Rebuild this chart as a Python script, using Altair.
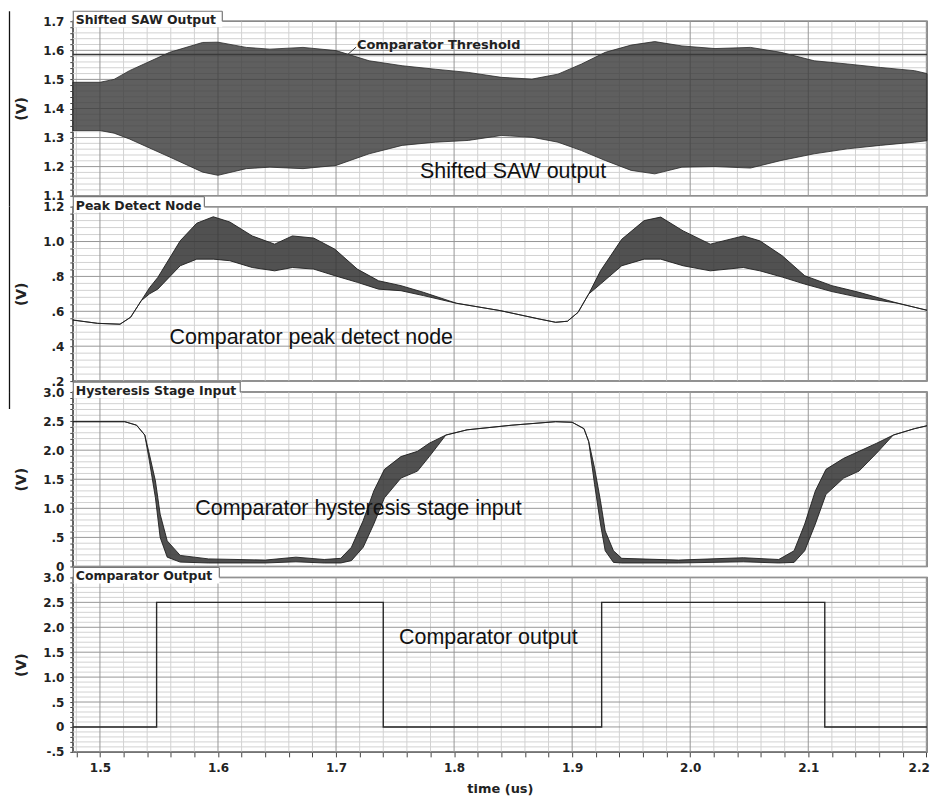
import altair as alt
import pandas as pd

# ---------------- data ----------------
X_DOMAIN = [1.477, 2.2006]
X_MAJOR = [1.5, 1.6, 1.7, 1.8, 1.9, 2.0, 2.1, 2.2]
X_MINOR = [1.48, 1.52, 1.54, 1.56, 1.58, 1.62, 1.64, 1.66, 1.68, 1.72, 1.74, 1.76, 1.78,
           1.82, 1.84, 1.86, 1.88, 1.92, 1.94, 1.96, 1.98, 2.02, 2.04, 2.06, 2.08,
           2.12, 2.14, 2.16, 2.18]

# Panel 1: Shifted SAW output (envelope of the fast oscillation)
saw_t = [1.477, 1.500, 1.512, 1.525, 1.559, 1.587, 1.600, 1.624, 1.644, 1.672, 1.700, 1.728,
         1.756, 1.784, 1.812, 1.840, 1.866, 1.888, 1.908, 1.928, 1.950, 1.970, 1.993,
         2.021, 2.051, 2.077, 2.105, 2.133, 2.161, 2.190, 2.2006]
saw_hi = [1.490, 1.490, 1.500, 1.530, 1.593, 1.627, 1.628, 1.610, 1.604, 1.610, 1.599, 1.564,
          1.547, 1.535, 1.524, 1.507, 1.501, 1.518, 1.553, 1.593, 1.618, 1.630, 1.615,
          1.606, 1.610, 1.593, 1.564, 1.553, 1.541, 1.530, 1.520]
saw_lo = [1.324, 1.324, 1.315, 1.295, 1.233, 1.181, 1.170, 1.193, 1.198, 1.193, 1.204, 1.244,
          1.273, 1.284, 1.290, 1.307, 1.301, 1.284, 1.255, 1.221, 1.187, 1.175, 1.198,
          1.200, 1.195, 1.221, 1.244, 1.261, 1.273, 1.284, 1.289]
THRESHOLD = 1.586

# Panel 2: Peak detect node
pk_t = [1.477, 1.498, 1.517, 1.526, 1.535, 1.542, 1.549, 1.568, 1.582, 1.596, 1.610, 1.629,
        1.648, 1.663, 1.681, 1.699, 1.718, 1.736, 1.755, 1.774, 1.802, 1.839, 1.872,
        1.886, 1.896, 1.905, 1.914, 1.924, 1.942, 1.961, 1.975, 1.994, 2.017, 2.045,
        2.059, 2.078, 2.097, 2.120, 2.143, 2.176, 2.2006]
pk_hi = [0.550, 0.531, 0.526, 0.566, 0.661, 0.735, 0.794, 1.004, 1.105, 1.142, 1.112, 1.032,
         0.985, 1.032, 1.020, 0.956, 0.842, 0.775, 0.747, 0.709, 0.646, 0.604, 0.556,
         0.537, 0.543, 0.594, 0.699, 0.832, 1.013, 1.120, 1.140, 1.061, 0.985, 1.032,
         1.004, 0.918, 0.804, 0.747, 0.709, 0.646, 0.606]
pk_lo = [0.550, 0.531, 0.526, 0.566, 0.661, 0.700, 0.727, 0.861, 0.899, 0.899, 0.890, 0.851,
         0.832, 0.851, 0.842, 0.804, 0.766, 0.727, 0.718, 0.690, 0.646, 0.604, 0.556,
         0.537, 0.543, 0.594, 0.699, 0.756, 0.861, 0.899, 0.899, 0.861, 0.832, 0.851,
         0.832, 0.796, 0.756, 0.713, 0.680, 0.646, 0.606]

# Panel 3: Hysteresis stage input
hy_t = [1.477, 1.521, 1.531, 1.538, 1.542, 1.547, 1.551, 1.557, 1.568, 1.592, 1.640, 1.666,
        1.690, 1.704, 1.713, 1.723, 1.732, 1.741, 1.755, 1.769, 1.779, 1.793, 1.811,
        1.849, 1.886, 1.900, 1.910, 1.914, 1.919, 1.924, 1.928, 1.935, 1.942, 1.990,
        2.045, 2.075, 2.088, 2.097, 2.106, 2.115, 2.130, 2.143, 2.158, 2.172, 2.190, 2.2006]
hy_hi = [2.49, 2.49, 2.43, 2.26, 1.92, 1.47, 0.90, 0.44, 0.19, 0.13, 0.11, 0.16,
         0.12, 0.14, 0.33, 0.79, 1.30, 1.67, 1.89, 1.98, 2.12, 2.26, 2.35,
         2.43, 2.49, 2.48, 2.37, 2.15, 1.69, 1.13, 0.61, 0.27, 0.14, 0.11,
         0.15, 0.12, 0.27, 0.73, 1.30, 1.67, 1.86, 1.98, 2.12, 2.26, 2.37, 2.42]
hy_lo = [2.49, 2.49, 2.43, 2.26, 1.80, 1.18, 0.50, 0.16, 0.075, 0.06, 0.06, 0.08,
         0.06, 0.06, 0.10, 0.33, 0.73, 1.18, 1.52, 1.64, 1.89, 2.26, 2.35,
         2.43, 2.49, 2.48, 2.37, 2.15, 1.41, 0.73, 0.27, 0.07, 0.06, 0.06,
         0.08, 0.06, 0.07, 0.27, 0.73, 1.24, 1.52, 1.64, 1.95, 2.26, 2.37, 2.42]

# Panel 4: Comparator output (step-after)
cmp_t = [1.477, 1.548, 1.740, 1.925, 2.114, 2.2006]
cmp_v = [0.0, 2.5, 0.0, 2.5, 0.0, 0.0]

# Panel y-axis ticks
P1_MAJOR = [1.1, 1.2, 1.3, 1.4, 1.5, 1.6, 1.7]
P1_MINOR = [1.12, 1.14, 1.16, 1.18, 1.22, 1.24, 1.26, 1.28, 1.32, 1.34, 1.36, 1.38,
            1.42, 1.44, 1.46, 1.48, 1.52, 1.54, 1.56, 1.58, 1.62, 1.64, 1.66, 1.68]
P2_MAJOR = [0.2, 0.4, 0.6, 0.8, 1.0, 1.2]
P2_MINOR = [0.24, 0.28, 0.32, 0.36, 0.44, 0.48, 0.52, 0.56, 0.64, 0.68, 0.72, 0.76,
            0.84, 0.88, 0.92, 0.96, 1.04, 1.08, 1.12, 1.16]
P3_MAJOR = [0.0, 0.5, 1.0, 1.5, 2.0, 2.5, 3.0]
P3_MINOR = [0.1, 0.2, 0.3, 0.4, 0.6, 0.7, 0.8, 0.9, 1.1, 1.2, 1.3, 1.4, 1.6, 1.7, 1.8, 1.9,
            2.1, 2.2, 2.3, 2.4, 2.6, 2.7, 2.8, 2.9]
P4_MAJOR = [-0.5, 0.0, 0.5, 1.0, 1.5, 2.0, 2.5, 3.0]
P4_MINOR = [-0.4, -0.3, -0.2, -0.1] + P3_MINOR

# Annotations
ann_labels = ["Shifted SAW output", "Comparator peak detect node",
              "Comparator hysteresis stage input", "Comparator output"]
ann_t = [1.850, 1.679, 1.719, 1.829]
ann_v = [1.182, 0.446, 0.99, 1.78]
panel_titles = ["Shifted SAW Output", "Peak Detect Node", "Hysteresis Stage Input", "Comparator Output"]
title_box_w = [150, 132, 168, 147]

# ---------------- styling ----------------
W, H = 857, 175
AXIS_FONT = "DejaVu Sans"
ANN_FONT = "Liberation Sans"
MINOR_C = "#d2d2d2"
MAJOR_C = "#979797"
one = pd.DataFrame({"k": [0]})


def lab_expr(step):
    fmt = ("(datum.value == 0 ? '0' : (abs(datum.value) < 1 ? "
           "(datum.value < 0 ? '-' : '') + substring(format(abs(datum.value), '.1f'), 1) : "
           "format(datum.value, '.1f')))")
    return (f"abs(datum.value/{step} - round(datum.value/{step})) < 0.001 ? {fmt} : ''")


def y_axis(major, minor, step):
    return alt.Axis(values=sorted(major + minor), labelExpr=lab_expr(step), labelOverlap=False,
                    grid=False, domainColor="#555", domainWidth=1.2, tickColor="#444",
                    tickSize=3, labelFont=AXIS_FONT, labelFontWeight="bold", labelFontSize=12,
                    labelColor="#222", labelPadding=6, title="(V)", titleFont=AXIS_FONT,
                    titleFontSize=14, titleFontWeight="bold", titleColor="#222",
                    titleX=-51, titleY=H / 2, titleAngle=270, titleBaseline="middle",
                    titleAlign="center")


X_AXIS_FULL = alt.Axis(values=sorted(X_MAJOR + X_MINOR),
                       labelExpr="abs(datum.value*10 - round(datum.value*10)) < 0.001 ? format(datum.value, '.1f') : ''",
                       labelOverlap=False, labelFlush=5, labelFlushOffset=3, grid=False,
                       domainColor="#555", tickColor="#444", tickSize=5, labelFont=AXIS_FONT,
                       labelFontWeight="bold", labelFontSize=12, labelColor="#222",
                       labelPadding=6, title="time (us)", titleFont=AXIS_FONT, titleFontSize=13,
                       titleFontWeight="bold", titleColor="#222", titlePadding=9)


def panel(idx, ydom, major, minor, step, signal_layers_fn, x_axis, extra_fn=None, stray=None):
    xs = alt.Scale(domain=X_DOMAIN, nice=False, zero=False)
    ys = alt.Scale(domain=ydom, nice=False, zero=False)
    ya = y_axis(major, minor, step)

    def X(f="t"):
        return alt.X(f"{f}:Q", scale=xs, axis=x_axis, title="time (us)")

    def Y(f="v"):
        return alt.Y(f"{f}:Q", scale=ys, axis=ya, title="(V)")

    layers = []
    layers.append(alt.Chart(pd.DataFrame({"t": X_MINOR})).mark_rule(color=MINOR_C, strokeWidth=1).encode(x=X()))
    layers.append(alt.Chart(pd.DataFrame({"v": minor})).mark_rule(color=MINOR_C, strokeWidth=1).encode(y=Y()))
    layers.append(alt.Chart(pd.DataFrame({"t": X_MAJOR})).mark_rule(color=MAJOR_C, strokeWidth=1).encode(x=X()))
    layers.append(alt.Chart(pd.DataFrame({"v": major})).mark_rule(color=MAJOR_C, strokeWidth=1).encode(y=Y()))
    layers += signal_layers_fn(X, Y)
    if extra_fn is not None:
        layers += extra_fn(X, Y)
    # annotation
    layers.append(alt.Chart(pd.DataFrame({"t": [ann_t[idx]], "v": [ann_v[idx]], "label": [ann_labels[idx]]}))
                  .mark_text(font=ANN_FONT, fontSize=21.5, color="#111", align="center", baseline="middle")
                  .encode(x=X(), y=Y(), text="label:N"))
    # panel title box
    w = title_box_w[idx]
    layers.append(alt.Chart(one).mark_rect(fill="white")
                  .encode(x=alt.value(0), x2=alt.value(w), y=alt.value(-10), y2=alt.value(6)))
    for enc in [dict(x=alt.value(0), x2=alt.value(w), y=alt.value(-10)),
                dict(x=alt.value(w), y=alt.value(-10), y2=alt.value(0)),
                dict(x=alt.value(0.5), y=alt.value(-10), y2=alt.value(6))]:
        layers.append(alt.Chart(one).mark_rule(color="#777", strokeWidth=1.2).encode(**enc))
    layers.append(alt.Chart(one).mark_text(text=panel_titles[idx], font=AXIS_FONT, fontWeight="bold",
                                           fontSize=12.5, color="#222", align="left",
                                           baseline="alphabetic")
                  .encode(x=alt.value(3), y=alt.value(3)))
    if stray is not None:
        layers.append(alt.Chart(one).mark_rule(color="#111", strokeWidth=1.3)
                      .encode(x=alt.value(-63.5), y=alt.value(stray[0]), y2=alt.value(stray[1])))
    return alt.layer(*layers).properties(width=W, height=H)


# Panel 1
def p1_sig(X, Y):
    df = pd.DataFrame({"t": saw_t, "hi": saw_hi, "lo": saw_lo})
    return [alt.Chart(df).mark_area(fill="#3c3c3c", fillOpacity=0.82, stroke="#2a2a2a", strokeWidth=0.8)
            .encode(x=X(), y=Y("lo"), y2="hi:Q")]


def p1_extra(X, Y):
    thr = alt.Chart(pd.DataFrame({"v": [THRESHOLD]})).mark_rule(color="#3a3a3a", strokeWidth=1.5).encode(y=Y())
    lead = alt.Chart(pd.DataFrame({"t": [1.710], "v": [THRESHOLD], "t2": [1.717], "v2": [1.611]})) \
        .mark_rule(color="#333", strokeWidth=1).encode(x=X(), y=Y(), x2="t2:Q", y2="v2:Q")
    txt = alt.Chart(pd.DataFrame({"t": [1.787], "v": [1.619], "label": ["Comparator Threshold"]})) \
        .mark_text(font=AXIS_FONT, fontWeight="bold", fontSize=13, color="#222", align="center",
                   baseline="middle").encode(x=X(), y=Y(), text="label:N")
    return [thr, lead, txt]


def p2_sig(X, Y):
    df = pd.DataFrame({"t": pk_t, "hi": pk_hi, "lo": pk_lo})
    return [alt.Chart(df).mark_area(fill="#333333", fillOpacity=0.85, stroke="#1e1e1e", strokeWidth=0.9)
            .encode(x=X(), y=Y("lo"), y2="hi:Q")]


def p3_sig(X, Y):
    df = pd.DataFrame({"t": hy_t, "hi": hy_hi, "lo": hy_lo})
    return [alt.Chart(df).mark_area(fill="#333333", fillOpacity=0.85, stroke="#1e1e1e", strokeWidth=0.9)
            .encode(x=X(), y=Y("lo"), y2="hi:Q")]


def p4_sig(X, Y):
    df = pd.DataFrame({"t": cmp_t, "v": cmp_v})
    return [alt.Chart(df).mark_line(color="#2a2a2a", strokeWidth=1.4, interpolate="step-after")
            .encode(x=X(), y=Y())]


c1 = panel(0, [1.1, 1.7], P1_MAJOR, P1_MINOR, 0.1, p1_sig, None, p1_extra, stray=(-10, 186))
c2 = panel(1, [0.2, 1.2], P2_MAJOR, P2_MINOR, 0.2, p2_sig, None, stray=(0, 186))
c3 = panel(2, [0.0, 3.0], P3_MAJOR, P3_MINOR, 0.5, p3_sig, None, stray=(0, 17))
c4 = panel(3, [-0.5, 3.0], P4_MAJOR, P4_MINOR, 0.5, p4_sig, X_AXIS_FULL)

chart = alt.vconcat(c1, c2, c3, c4, spacing=11, bounds="flush").properties(
    padding={"left": 0, "top": 0, "right": 0, "bottom": 0}
).configure_view(stroke="#6a6a6a", strokeWidth=1.5)

chart.save("out.html", embed_options={"renderer": "svg", "actions": False})
